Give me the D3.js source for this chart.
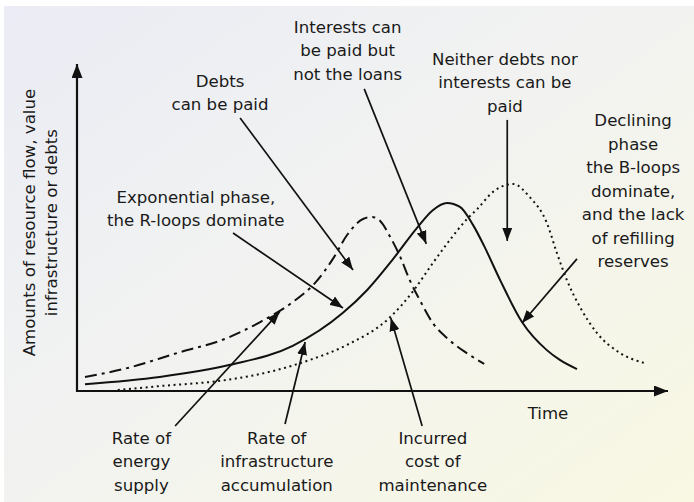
<!DOCTYPE html>
<html>
<head>
<meta charset="utf-8">
<script src="https://cdn.jsdelivr.net/npm/d3@7"></script>
<style>
  body { margin: 0; background: #fff; }
  svg { display: block; }
  text { font-family: "DejaVu Sans", sans-serif; font-size: 16.6px; fill: #1a1a1a; }
</style>
</head>
<body>
<svg class="viz"></svg>
<script>
var width = 694,
  height = 502;

// curves (time 0-100, amount 0-100)
var energyT = [1.35, 8.5, 16.9, 25.4, 31.0, 36.5, 40.4, 43.3, 45.7, 48.4, 49.9, 51.3, 53.0, 54.7, 56.3, 58.0, 60.2, 62.6, 65.7, 68.9];
var energyV = [4.3, 7.0, 11.6, 16.2, 21.1, 27.2, 33.3, 40.4, 47.7, 52.6, 53.2, 52.0, 47.1, 41.0, 33.9, 27.8, 20.8, 16.2, 11.9, 8.3];

var infraT = [1.35, 14.0, 25.9, 36.5, 45.0, 49.1, 53.5, 57.5, 60.2, 62.6, 64.8, 67.0, 68.9, 71.6, 75.3, 79.5, 81.7, 84.6];
var infraV = [2.1, 4.3, 8.0, 13.8, 23.9, 30.9, 40.4, 49.8, 55.3, 57.5, 56.3, 50.8, 44.3, 33.9, 21.1, 12.5, 9.5, 6.7];

var maintT = [6.9, 14.0, 25.4, 33.8, 39.4, 45.7, 53.0, 56.9, 60.2, 63.1, 66.0, 67.7, 70.4, 73.8, 76.6, 79.5, 81.2, 82.9, 85.1, 88.0, 91.9, 95.9];
var maintV = [0.3, 1.5, 3.4, 6.4, 9.5, 14.1, 22.6, 30.6, 39.1, 46.2, 52.6, 55.6, 60.9, 63.3, 59.3, 51.4, 42.2, 33.9, 25.7, 17.7, 11.6, 8.6];

// annotation labels
var noteLabels = [
  ["Debts", "can be paid"],
  ["Exponential phase,", "the R-loops dominate"],
  ["Interests can", "be paid but", "not the loans"],
  ["Neither debts nor", "interests can be", "paid"],
  ["Declining", "phase", "the B-loops", "dominate,", "and the lack", "of refilling", "reserves"],
  ["Rate of", "energy", "supply"],
  ["Rate of", "infrastructure", "accumulation"],
  ["Incurred", "cost of", "maintenance"]
];
// label anchor [time, amount] and arrow from -> to
var noteAt = [[24.2, 93.0], [20.1, 57.5], [45.8, 109.5], [72.4, 99.7], [94.1, 81.0], [10.9, -16.2], [33.8, -16.2], [60.2, -16.2]];
var arrowFrom = [[27.6, 83.5], [26.4, 48.3], [48.6, 92.4], [72.8, 82.9], [84.6, 40.4], [16.6, -10.7], [35.2, -10.1], [58.4, -10.7]];
var arrowTo = [[46.7, 37.0], [45.0, 25.4], [59.1, 45.0], [72.8, 45.9], [75.3, 20.8], [34.3, 24.2], [38.6, 15.0], [53.1, 22.3]];

var yLabel = ["Amounts of resource flow, value", "infrastructure or debts"];

var x = d3.scaleLinear().domain([0, 100]).range([77, 668]);
var y = d3.scaleLinear().domain([0, 100]).range([391, 64]);

var viz = d3.select(".viz")
  .attr("width", width)
  .attr("height", height);

var defs = viz.append("defs");
var grad = defs.append("linearGradient")
  .attr("id", "bg")
  .attr("x1", "0%").attr("y1", "0%")
  .attr("x2", "100%").attr("y2", "100%");
grad.append("stop").attr("offset", "0%").attr("stop-color", "#ebecf5");
grad.append("stop").attr("offset", "50%").attr("stop-color", "#f2f3f0");
grad.append("stop").attr("offset", "100%").attr("stop-color", "#f9f8e3");

function marker(id, len, wid) {
  defs.append("marker")
    .attr("id", id)
    .attr("viewBox", "0 0 " + len + " " + wid)
    .attr("refX", len)
    .attr("refY", wid / 2)
    .attr("markerUnits", "userSpaceOnUse")
    .attr("markerWidth", len)
    .attr("markerHeight", wid)
    .attr("orient", "auto")
    .append("path")
    .attr("d", "M0,0L" + len + "," + (wid / 2) + "L0," + wid + "Z")
    .attr("fill", "#111");
}
marker("head", 13, 10);
marker("axhead", 14, 11);

viz.append("rect")
  .attr("x", 4).attr("y", 6)
  .attr("width", width - 4).attr("height", height - 6)
  .attr("fill", "url(#bg)");

// axes
viz.append("line")
  .attr("x1", x(0)).attr("y1", y(0))
  .attr("x2", x(100)).attr("y2", y(0))
  .attr("stroke", "#111").attr("stroke-width", 2.2)
  .attr("marker-end", "url(#axhead)");
viz.append("line")
  .attr("x1", x(0)).attr("y1", y(0) + 1)
  .attr("x2", x(0)).attr("y2", y(100))
  .attr("stroke", "#111").attr("stroke-width", 2.2)
  .attr("marker-end", "url(#axhead)");

// curves
var line = d3.line()
  .x(d => x(d[0]))
  .y(d => y(d[1]))
  .curve(d3.curveMonotoneX);

var series = [
  { t: energyT, v: energyV, dash: "12,5,3,5" },
  { t: infraT, v: infraV, dash: null },
  { t: maintT, v: maintV, dash: "2,3.6" }
];

viz.selectAll("path.curve")
  .data(series)
  .enter()
  .append("path")
  .attr("class", "curve")
  .attr("d", s => line(d3.zip(s.t, s.v)))
  .attr("fill", "none")
  .attr("stroke", "#111")
  .attr("stroke-width", 2)
  .attr("stroke-dasharray", s => s.dash);

// annotation arrows
viz.selectAll("line.note")
  .data(arrowFrom)
  .enter()
  .append("line")
  .attr("class", "note")
  .attr("x1", d => x(d[0]))
  .attr("y1", d => y(d[1]))
  .attr("x2", (d, i) => x(arrowTo[i][0]))
  .attr("y2", (d, i) => y(arrowTo[i][1]))
  .attr("stroke", "#111")
  .attr("stroke-width", 1.7)
  .attr("marker-end", "url(#head)");

// annotation text
var lineHeight = 23.5;
var notes = viz.selectAll("text.note")
  .data(noteLabels)
  .enter()
  .append("text")
  .attr("class", "note")
  .attr("text-anchor", "middle");
notes.selectAll("tspan")
  .data((d, i) => d.map(s => [s, i]))
  .enter()
  .append("tspan")
  .attr("x", d => x(noteAt[d[1]][0]))
  .attr("y", (d, j) => y(noteAt[d[1]][1]) + j * lineHeight)
  .text(d => d[0]);

viz.append("text")
  .attr("x", x(79.7))
  .attr("y", y(-8.6))
  .attr("text-anchor", "middle")
  .text("Time");

viz.selectAll("text.ylab")
  .data(yLabel)
  .enter()
  .append("text")
  .attr("class", "ylab")
  .attr("text-anchor", "middle")
  .attr("transform", (d, i) => "translate(" + (35 + i * 22) + "," + y(51.5) + ") rotate(-90)")
  .text(d => d);
</script>
</body>
</html>
